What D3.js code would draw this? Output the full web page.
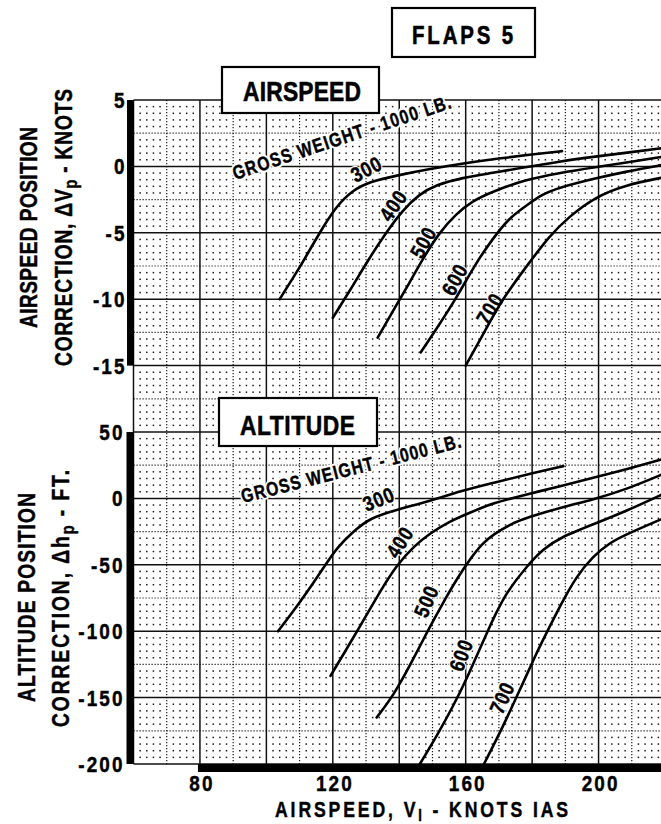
<!DOCTYPE html>
<html><head><meta charset="utf-8">
<script src="https://cdn.jsdelivr.net/npm/d3@7"></script>
<style>
html,body{margin:0;padding:0;background:#fff;overflow:hidden}
svg{display:block}
text{font-family:"Liberation Sans",Arial,"DejaVu Sans",sans-serif;font-weight:bold;fill:#000}
</style></head><body>
<svg id="c" width="661" height="824"></svg>
<script>
// ---------------- DATA ----------------
const airspeedTicks = [80, 120, 160, 200];
const dvTicks = [5, 0, -5, -10, -15];
const dhTicks = [50, 0, -50, -100, -150, -200];
const weightLabels = ["300", "400", "500", "600", "700"];

// Airspeed position correction (knots) vs IAS (knots)
const dv300 = [[104,-10],[108,-8.4],[111,-7.2],[116,-5],[121,-3],[126,-1.8],[131,-1.15],[140,-0.65],[149,-0.2],[160,0.25],[170,0.6],[180,0.9],[189,1.15]];
const dv400 = [[120,-11.4],[126,-9],[131,-6.9],[136,-5],[141,-3.3],[146,-2.1],[151,-1.4],[159,-0.85],[168,-0.5],[178,-0.06],[188,0.36],[199,0.74],[210,1.08],[220,1.4]];
const dv500 = [[133.5,-12.9],[139,-10.5],[143,-8.8],[147,-7],[152,-5],[157,-3.6],[162,-2.6],[168,-1.9],[178,-1.0],[188,-0.5],[199,-0.06],[210,0.35],[220,0.75]];
const dv600 = [[146.5,-14],[151,-12.3],[157,-10],[163,-7.3],[168,-5.5],[173,-3.9],[178,-3.0],[183,-2.1],[188,-1.6],[199,-0.9],[208,-0.4],[220,0.15]];
const dv700 = [[160,-15],[166,-12.3],[171,-10],[179,-7.3],[185,-5.3],[191,-3.8],[199,-2.3],[208,-1.4],[220,-0.8]];

// Altitude position correction (ft) vs IAS (knots)
const dh300 = [[103.5,-100],[109.3,-81],[114.3,-63],[117.8,-50],[121.3,-37],[126.3,-24.6],[131.4,-14.5],[139.4,-8.3],[149.4,-2],[158.4,5.5],[168.4,11.8],[178.4,18],[189.4,24.3]];
const dh400 = [[119.3,-133.6],[124,-114],[129,-93],[134,-71],[139.3,-50],[144.4,-36],[149.4,-26],[155,-17.5],[161,-11],[168.4,-3.3],[178.4,3],[188.4,9.2],[198.4,15.6],[210,23],[220,30]];
const dh500 = [[133.2,-165],[138.2,-148.6],[143.2,-126],[148.3,-101],[153.3,-78],[157.5,-60],[161.5,-45],[165,-34],[168.4,-27],[173.4,-19.5],[178.4,-14.5],[188.4,-7],[198.4,-0.8],[208.4,6.8],[220,19]];
const dh600 = [[146.2,-200],[151.3,-179],[156.3,-156],[160.3,-136],[166.4,-101],[171.4,-73.5],[178.4,-51],[183.4,-38],[188.4,-29.5],[198.4,-19.5],[208.4,-9.5],[220,4]];
const dh700 = [[165.5,-200],[171.4,-171],[176.4,-143.6],[181.4,-116],[184.4,-101],[188.4,-81],[193.4,-58.4],[198.4,-43.4],[203.4,-33.3],[208.4,-27],[220,-14.5]];

const dvSeries = [dv300, dv400, dv500, dv600, dv700];
const dhSeries = [dh300, dh400, dh500, dh600, dh700];

// ---------------- LAYOUT ----------------
const svg = d3.select("#c");
const x = d3.scaleLinear().domain([60, 220]).range([133.5, 665]);
const yGrid = d3.scaleLinear().domain([5, -45]).range([100, 764]); // whole grid in airspeed-panel units
const yV = d3.scaleLinear().domain([5, -15]).range([100, yGrid(-15)]);
const yH = d3.scaleLinear().domain([100, -200]).range([yGrid(-15), 764]);

// label annotation placement (data coordinates, rotation)
const dvLabelAt = [[130.6,-0.5,-27],[139.2,-3.15,-56],[148.3,-5.9,-61],[157.8,-8.7,-62],[168.3,-10.9,-59]];
const dhLabelAt = [[134.2,-3.7,-22],[141.2,-35,-58],[149.3,-79,-67],[159.8,-119.4,-70],[172.1,-151.8,-66]];

const g = svg.append("g");

// text helper: condensed glyphs (scaleX) with letter-spacing fitted to a target length
function addText(parent, o) {
  const c = o.c || 0.85;
  const grp = parent.append("g").attr("transform", `translate(${o.x},${o.y}) rotate(${o.rot || 0}) scale(${c},1)`);
  const a = o.anchor || "start";
  const t = grp.append("text").attr("font-size", o.size).attr("text-anchor", a);
  if (o.dy) t.attr("dy", o.dy);
  if (o.halo) {
    const h = grp.append("text").attr("font-size", o.size).attr("text-anchor", a).attr("fill", "#fff")
      .attr("stroke", "#fff").attr("stroke-width", o.halo).attr("stroke-linejoin", "round");
    if (o.dy) h.attr("dy", o.dy);
    t.raise();
    t.halo = h;
  }
  const targets = t.halo ? [t.halo, t] : [t];
  targets.forEach(tt => (o.parts || [[o.text]]).forEach(p => {
    const s = tt.append("tspan").text(p[0]);
    if (p[1]) s.attr("dy", p[1]);
    if (p[2]) s.attr("font-size", p[2]);
  }));
  t.attr("stroke", "#000").attr("stroke-width", o.sw == null ? 0.45 : o.sw);
  let s = o.ls || 0;
  const n = t.text().length;
  if (o.len && n > 1) {
    const W = t.node().getComputedTextLength();
    s = (o.len / c - W) / (n - 1);
  }
  if (s) targets.forEach(tt => {
    tt.attr("letter-spacing", s);
    if (a === "end") tt.attr("dx", s); else if (a === "middle") tt.attr("dx", s / 2);
  });
  return t;
}

// dots
const dotX = d3.range(60, 220.01, 2).filter(v => v % 10 !== 0);
const dotY = d3.range(5, -45.01, -0.5).filter(v => Math.abs(v % 2.5) > 1e-6);
const dots = [];
dotX.forEach(a => dotY.forEach(b => dots.push([a, b])));
g.append("g").attr("fill", "#1a1a1a").selectAll("rect").data(dots).join("rect")
  .attr("x", d => x(d[0]) - 0.75).attr("y", d => yGrid(d[1]) - 0.75)
  .attr("width", 1.5).attr("height", 1.5);

// dotted minor lines
g.append("g").attr("stroke", "#1a1a1a").attr("stroke-width", 1.2).attr("stroke-dasharray", "1.2 1.8")
  .selectAll("line").data(d3.range(70, 220, 20)).join("line")
  .attr("x1", d => x(d)).attr("x2", d => x(d)).attr("y1", yGrid(5)).attr("y2", yGrid(-45));
g.append("g").attr("stroke", "#1a1a1a").attr("stroke-width", 1.2).attr("stroke-dasharray", "1.2 1.8")
  .selectAll("line").data(d3.range(2.5, -45, -5)).join("line")
  .attr("y1", d => yGrid(d)).attr("y2", d => yGrid(d)).attr("x1", x(60)).attr("x2", x(220));

// major lines
g.append("g").attr("stroke", "#111").attr("stroke-width", 1.5)
  .selectAll("line").data(d3.range(60, 221, 20)).join("line")
  .attr("x1", d => x(d)).attr("x2", d => x(d)).attr("y1", yGrid(5)).attr("y2", yGrid(-45));
g.append("g").attr("stroke", "#111").attr("stroke-width", 1.5)
  .selectAll("line").data(d3.range(5, -45.1, -5)).join("line")
  .attr("y1", d => yGrid(d)).attr("y2", d => yGrid(d)).attr("x1", x(60)).attr("x2", x(220));

// thick bars
g.append("rect").attr("x", x(60) - 6.5).attr("y", yV(5)).attr("width", 7).attr("height", yV(-15) - yV(5)).attr("fill", "#000");
g.append("rect").attr("x", x(60) - 7).attr("y", yH(50)).attr("width", 7.5).attr("height", yH(-200) - yH(50)).attr("fill", "#000");
g.append("rect").attr("x", x(80) - 2).attr("y", yH(-200)).attr("width", 661 - x(80) + 2).attr("height", 8).attr("fill", "#000");

// boxes
function box(x0, y0, w, h, label, tx, ty, len, fs) {
  g.append("rect").attr("x", x0).attr("y", y0).attr("width", w).attr("height", h)
    .attr("fill", "#fff").attr("stroke", "#000").attr("stroke-width", 2.2);
  addText(g, {x: tx, y: ty, size: fs, len: len, text: label, c: 0.8, sw: 0.6});
}
box(392, 8, 143, 49, "FLAPS 5", 412, 43.5, 101, 25.5);
box(222, 67, 157, 46, "AIRSPEED", 243, 101, 118, 28.5);
box(219, 398, 158, 48, "ALTITUDE", 240, 434.5, 115, 28.5);

// gross weight labels
addText(g, {x: x(90.6), y: yV(-1.02), rot: -18.4, size: 19.5, len: 229, halo: 4.5, c: 0.8, text: "GROSS WEIGHT - 1000 LB."});
addText(g, {x: x(93), y: yH(-3.5), rot: -14.3, size: 19.5, len: 226, halo: 4.5, c: 0.8, text: "GROSS WEIGHT - 1000 LB."});

// curve labels, nudged a little to the text's "up" side so they sit beside the curve
function curveLabels(pos, ys) {
  const off = 4.5;
  pos.forEach((d, i) => {
    const r = d[2] * Math.PI / 180;
    addText(g, {x: x(d[0]) + off * Math.sin(r), y: ys(d[1]) - off * Math.cos(r), rot: d[2], anchor: "middle", dy: "0.36em",
      size: 21, c: 0.85, ls: 1, halo: 3, text: weightLabels[i]});
  });
}
curveLabels(dvLabelAt, yV);
curveLabels(dhLabelAt, yH);

// curves
const lineV = d3.line().x(d => x(d[0])).y(d => yV(d[1])).curve(d3.curveBasis);
const lineH = d3.line().x(d => x(d[0])).y(d => yH(d[1])).curve(d3.curveBasis);
g.append("g").attr("fill", "none").attr("stroke", "#000").attr("stroke-width", 2.6).attr("stroke-linecap", "round")
  .selectAll("path").data(dvSeries).join("path").attr("d", lineV);
g.append("g").attr("fill", "none").attr("stroke", "#000").attr("stroke-width", 2.6).attr("stroke-linecap", "round")
  .selectAll("path").data(dhSeries).join("path").attr("d", lineH);

// y tick labels
dvTicks.forEach(d => addText(g, {x: 124.5, y: yV(d), anchor: "end", dy: "0.36em", size: 22, c: 0.86, ls: 2.5, text: String(d)}));
dhTicks.forEach(d => addText(g, {x: 122.5, y: yH(d), anchor: "end", dy: "0.36em", size: 22, c: 0.86, ls: 2.5, text: String(d)}));

// x tick labels
airspeedTicks.forEach(d => addText(g, {x: x(d) + 1, y: 791, anchor: "middle", size: 22, c: 0.86, ls: 2.5, text: String(d)}));

// x title
addText(g, {x: 275, y: 817, size: 22, len: 293, c: 0.8,
  parts: [["AIRSPEED, V"], ["I", 4, 16], [" - KNOTS IAS", -4]]});

// y titles
addText(g, {x: 37, y: 227.5, rot: -90, anchor: "middle", size: 24, len: 201, c: 0.8, text: "AIRSPEED POSITION"});
addText(g, {x: 72, y: 227.5, rot: -90, anchor: "middle", size: 24, len: 277, c: 0.8,
  parts: [["CORRECTION, \u0394V"], ["p", 5, 18], [" - KNOTS", -5]]});
addText(g, {x: 35, y: 597.5, rot: -90, anchor: "middle", size: 24, len: 209, c: 0.8, text: "ALTITUDE POSITION"});
addText(g, {x: 69, y: 598.5, rot: -90, anchor: "middle", size: 24, len: 257, c: 0.8,
  parts: [["CORRECTION, \u0394h"], ["p", 5, 18], [" - FT.", -5]]});
</script>
</body></html>
